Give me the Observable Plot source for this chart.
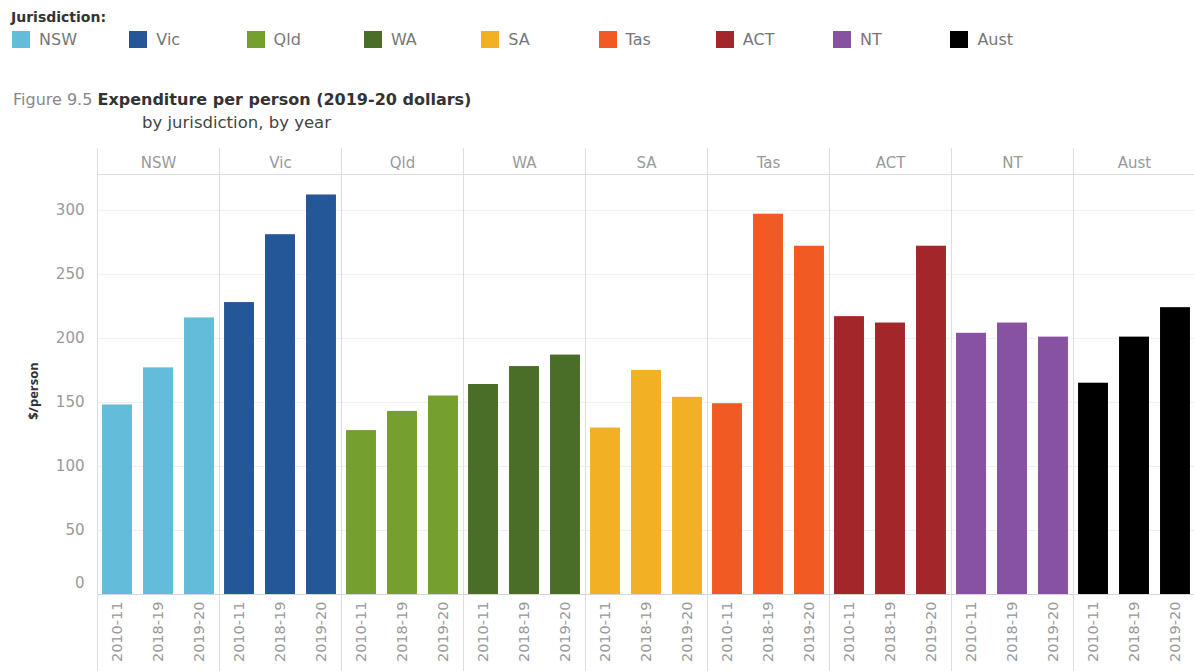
<!DOCTYPE html>
<html><head><meta charset="utf-8">
<script src="https://cdn.jsdelivr.net/npm/d3@7"></script>
<script src="https://cdn.jsdelivr.net/npm/@observablehq/plot@0.6"></script>
<style>
body{margin:0;background:#fff;font-family:"DejaVu Sans",sans-serif;width:1194px;height:671px;overflow:hidden;position:relative}
.abs{position:absolute;white-space:nowrap}
#lgTitle{left:11px;top:10px;font-size:14px;line-height:14px;font-weight:bold;color:#333}
.sw{width:18px;height:17px;top:31px}
.lt{top:31.5px;font-size:16px;line-height:16px;color:#777}
#title{left:13px;top:91.5px;font-size:16px;line-height:16px;color:#333}
#title .fig{color:#888}
#title b{font-weight:bold;color:#333}
#sub{left:142px;top:114.5px;font-size:16.5px;line-height:16px;color:#444}
#ylab{left:33px;top:391px;transform:translate(-50%,-50%) rotate(-90deg);font-family:"Open Sans",sans-serif;font-size:13px;font-weight:bold;color:#333}
#chart{position:absolute;left:0;top:140px}
</style></head><body>
<div id="lgTitle" class="abs">Jurisdiction:</div>
<div id="legend"></div>
<div id="title" class="abs"><span class="fig">Figure 9.5 </span><b>Expenditure per person (2019-20 dollars)</b></div>
<div id="sub" class="abs">by jurisdiction, by year</div>
<div id="chart"></div>
<div id="ylab" class="abs">$/person</div>
<script>
const jurisdictions = ["NSW","Vic","Qld","WA","SA","Tas","ACT","NT","Aust"];
const years = ["2010-11","2018-19","2019-20"];
const colors = ["#63bcd9","#245797","#75a02e","#4a6e28","#f2b024","#f15a22","#a3262a","#8752a1","#000000"];
const v2010_11 = [148,228,128,164,130,149,217,204,165];
const v2018_19 = [177,281,143,178,175,297,212,212,201];
const v2019_20 = [216,312,155,187,154,272,272,201,224];
const yTicks = [0,50,100,150,200,250,300];

const series = [v2010_11, v2018_19, v2019_20];
const data = [];
jurisdictions.forEach((j,i)=>series.forEach((arr,k)=>data.push({j, year: years[k], value: arr[i]})));

// legend
const lg = d3.select("#legend");
jurisdictions.forEach((j,i)=>{
  const left = 12 + i*117.3;
  lg.append("div").attr("class","abs sw").style("left",left+"px").style("background",colors[i]);
  lg.append("div").attr("class","abs lt").style("left",(left+27)+"px").text(j);
});

const plot = Plot.plot({
  width:1194, height:531,
  marginTop:34, marginBottom:77, marginLeft:97, marginRight:-1,
  style:{fontFamily:"DejaVu Sans, sans-serif", background:"transparent"},
  facet:{data, x:"j"},
  fx:{domain:jurisdictions, padding:0, round:false, label:null},
  x:{domain:years, paddingInner:0.27, paddingOuter:0.123, round:false, label:null},
  y:{domain:[0,328], label:null},
  color:{domain:jurisdictions, range:colors},
  marks:[
    Plot.gridY(yTicks.slice(1), {stroke:"#efefef", strokeOpacity:1}),
    Plot.ruleY([328], {stroke:"#ddd"}),
    Plot.frame({anchor:"left", stroke:"#ddd", strokeOpacity:1, insetTop:-26, insetBottom:-77}),
    Plot.barY(data, {x:"year", y:"value", fill:"j"}),
    Plot.ruleY([0], {stroke:"#d5d5d5"}),
    Plot.axisFx({anchor:"top", tickSize:0, tickPadding:7, fontSize:15, fill:"#999", label:null}),
    Plot.axisX({tickRotate:-90, tickSize:0, tickPadding:7, fontSize:14.5, fill:"#999", label:null}),
    Plot.axisY(yTicks.slice(1), {tickSize:0, tickPadding:13, fontSize:15, fill:"#999", label:null}),
    Plot.axisY([0], {tickSize:0, tickPadding:13, dy:-11, fontSize:15, fill:"#999", label:null})
  ]
});
document.getElementById("chart").appendChild(plot);
</script>
</body></html>
